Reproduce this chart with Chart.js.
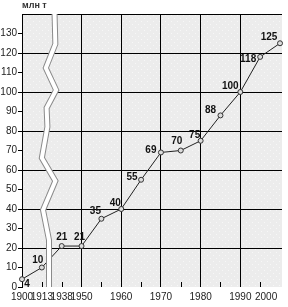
<!DOCTYPE html>
<html>
<head>
<meta charset="utf-8">
<script src="https://cdn.jsdelivr.net/npm/chart.js@4"></script>
<style>
  html, body { margin: 0; padding: 0; background: #fff; }
  #wrap { width: 288px; height: 307px; }
</style>
</head>
<body>
<div id="wrap"><canvas id="chart_production" width="288" height="307"></canvas></div>
<script>
/**
 * @name Production chart
 * @function line chart with a broken time axis (1900-1938 squeezed)
 */

var years = [1900, 1913, 1938, 1950, 1955, 1960, 1965, 1970, 1975, 1980, 1985, 1990, 1995, 2000];
var values = [4, 10, 21, 21, 35, 40, 55, 69, 70, 75, 88, 100, 118, 125];
var tickYears = [1900, 1913, 1938, 1950, 1960, 1970, 1980, 1990, 2000];
var gridYears = [1950, 1960, 1970, 1980, 1990];
var minorTickYears = [1913, 1938, 1955, 1965, 1975, 1985, 1995];
var unitLabel = 'млн т';

// label placement around each point, [dx, dy] in px
var labelOffsets = [[5, 5], [-4, -7], [0, -9], [-2, -9], [-6, -8], [-6, -6], [-9, -3],
  [-10, -2], [-4, -9], [-6, -6], [-10, -5], [-10, -6], [-12, 2], [-11, -6]];

// axis break drawn as a zigzag band, [x position, y value]
var breakPath = [[0.82, 140], [0.84, 124.6], [0.6, 112.3], [0.86, 101], [0.62, 91.8],
  [0.64, 82.1], [0.5, 66.2], [0.84, 54.4], [0.53, 39.5], [0.68, 24.1], [0.68, 0]];

var FONT = '"Liberation Sans", Arial, sans-serif';

// 1900-1938 squeezed into one unit, then one unit per decade
var squeezed = {1900: 0, 1913: 0.5, 1938: 1};
function yearPos(y) {
  if (squeezed[y] !== undefined) return squeezed[y];
  return 1.5 + (y - 1950) / 10;
}

var ctx = document.getElementById('chart_production').getContext('2d');

function makePattern() {
  var c = document.createElement('canvas');
  c.width = 6; c.height = 6;
  var p = c.getContext('2d');
  p.fillStyle = '#ececec';
  p.fillRect(0, 0, 6, 6);
  p.fillStyle = '#f7f7f7';
  p.fillRect(0, 0, 1, 1);
  p.fillRect(3, 3, 1, 1);
  return ctx.createPattern(c, 'repeat');
}
var bgPattern = makePattern();

var decorPlugin = {
  id: 'decor',
  beforeDraw: function(chart) {
    var a = chart.chartArea;
    var c = chart.ctx;
    c.save();
    c.fillStyle = bgPattern;
    c.fillRect(a.left, a.top, a.right - a.left, a.bottom - a.top);
    c.restore();
  },
  afterDatasetsDraw: function(chart) {
    var c = chart.ctx;
    var x = chart.scales.x, y = chart.scales.y;
    var a = chart.chartArea;
    c.save();

    // small inner ticks on the bottom edge
    c.strokeStyle = '#000';
    c.lineWidth = 1;
    minorTickYears.forEach(function(yr) {
      var px = Math.round(x.getPixelForValue(yearPos(yr))) + 0.5;
      c.beginPath();
      c.moveTo(px, a.bottom);
      c.lineTo(px, a.bottom - 5);
      c.stroke();
    });

    // axis break band
    c.lineJoin = 'miter';
    c.beginPath();
    breakPath.forEach(function(p, i) {
      var px = x.getPixelForValue(p[0]), py = y.getPixelForValue(p[1]);
      if (i === 0) c.moveTo(px, py); else c.lineTo(px, py);
    });
    c.strokeStyle = '#8a8a8a';
    c.lineWidth = 6;
    c.stroke();
    c.strokeStyle = '#ffffff';
    c.lineWidth = 4;
    c.stroke();

    // value labels
    var meta = chart.getDatasetMeta(0);
    c.font = 'bold 10px ' + FONT;
    c.fillStyle = '#111';
    c.textAlign = 'center';
    c.textBaseline = 'middle';
    meta.data.forEach(function(pt, i) {
      var off = labelOffsets[i];
      c.fillText(String(values[i]), pt.x + off[0], pt.y + off[1]);
    });

    // unit
    c.font = 'bold 9px ' + FONT;
    c.fillStyle = '#333';
    c.textAlign = 'left';
    c.textBaseline = 'middle';
    c.fillText(unitLabel, a.left, 6);
    c.restore();
  }
};

new Chart(ctx, {
  type: 'line',
  data: {
    datasets: [{
      data: years.map(function(yr, i) { return {x: yearPos(yr), y: values[i]}; }),
      borderColor: '#222',
      borderWidth: 1,
      pointRadius: 2.5,
      pointBorderWidth: 1,
      pointBorderColor: '#333',
      pointBackgroundColor: '#dcdcdc',
      tension: 0,
      clip: false
    }]
  },
  options: {
    responsive: false,
    animation: false,
    devicePixelRatio: 1,
    layout: { padding: { top: 14, right: 6, left: 0, bottom: 0 } },
    plugins: {
      legend: { display: false },
      tooltip: { enabled: false }
    },
    scales: {
      x: {
        type: 'linear',
        min: 0,
        max: 6.55,
        afterBuildTicks: function(scale) {
          scale.ticks = tickYears.map(function(yr) { return {value: yearPos(yr)}; });
        },
        afterFit: function(scale) {
          scale.height = 20;
          scale.paddingLeft = 0;
          scale.paddingRight = 0;
        },
        border: { display: false },
        grid: {
          drawTicks: false,
          color: function(c) {
            return gridYears.indexOf(tickYears[c.index]) >= 0 ? '#000' : 'rgba(0,0,0,0)';
          }
        },
        ticks: {
          autoSkip: false,
          maxRotation: 0,
          padding: 4,
          color: '#222',
          font: { family: FONT, size: 10 },
          callback: function(value, index) {
            var yr = tickYears[index];
            // last label sits pulled in from the edge
            return yr === 2000 ? '2000' + '\u2007\u2007\u2007\u2007\u2007' : String(yr);
          }
        }
      },
      y: {
        min: 0,
        max: 140,
        afterFit: function(scale) { scale.width = 22; },
        border: { display: true, color: '#000', width: 1 },
        grid: {
          tickLength: 4,
          color: function(c) {
            var v = c.tick.value;
            return (v > 0 && v % 20 === 0) ? '#000' : 'rgba(0,0,0,0)';
          },
          tickColor: function(c) {
            return c.tick.value === 140 ? 'rgba(0,0,0,0)' : '#000';
          }
        },
        ticks: {
          stepSize: 10,
          padding: 1,
          color: '#222',
          font: { family: FONT, size: 10 },
          callback: function(v) { return v === 140 ? '' : v; }
        }
      }
    }
  },
  plugins: [decorPlugin]
});
</script>
</body>
</html>
